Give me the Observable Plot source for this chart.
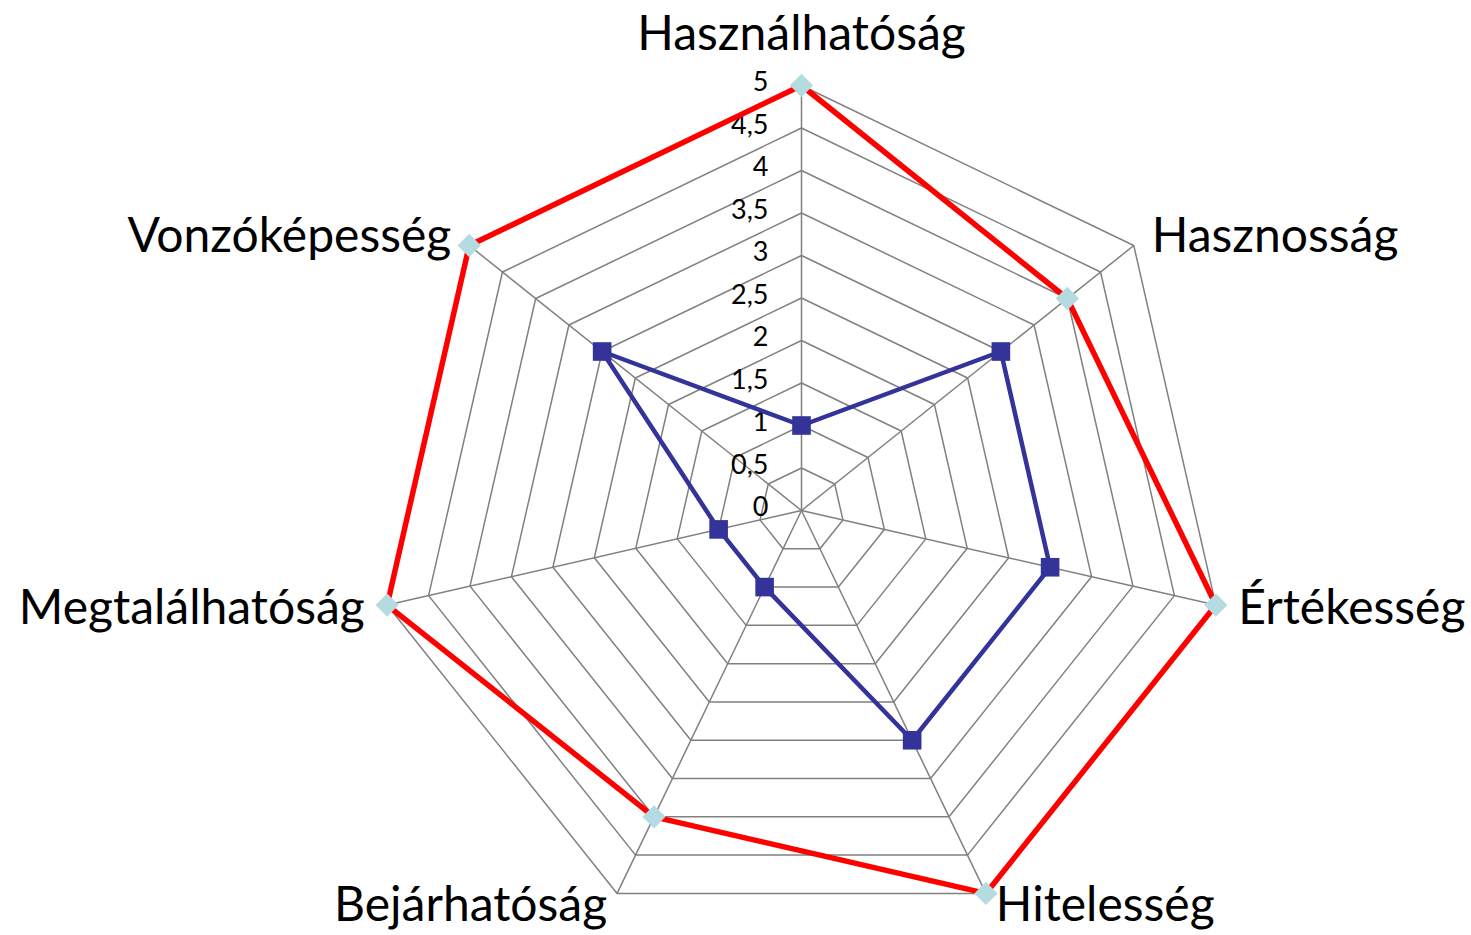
<!DOCTYPE html>
<html><head><meta charset="utf-8">
<script src="https://cdn.jsdelivr.net/npm/d3@7"></script>
<script src="https://cdn.jsdelivr.net/npm/@observablehq/plot@0.6"></script>
<style>body{margin:0;background:#fff;overflow:hidden}</style>
</head><body><div id="chart"></div>
<script>
const axes = ["Használhatóság","Hasznosság","Értékesség","Hitelesség","Bejárhatóság","Megtalálhatóság","Vonzóképesség"];
const seriesRed = [5,4,5,5,4,5,5];
const seriesBlue = [1,3,3,3,1,1,3];
const ticks = [0,0.5,1,1.5,2,2.5,3,3.5,4,4.5,5];
const tickLabels = ["0","0,5","1","1,5","2","2,5","3","3,5","4","4,5","5"];

const n = axes.length;
const ang = i => 2 * Math.PI * i / n;
const px = (i, v) => v * Math.sin(ang(i));
const py = (i, v) => v * Math.cos(ang(i));
const maxV = d3.max(ticks);

const rings = [];
ticks.filter(t => t > 0).forEach(t => {
  for (let i = 0; i <= n; i++) rings.push({ring: t, i: i % n, v: t});
});
const spokes = axes.map((a, i) => ({i}));
const closed = vals => d3.range(n + 1).map(k => ({i: k % n, v: vals[k % n]}));
const pts = vals => vals.map((v, i) => ({i, v}));
const labels = axes.map((name, i) => ({name, i}));
const side = d => Math.sin(ang(d.i));

const labelOpts = {
  x: d => d.i === 0 ? 0 : px(d.i, maxV + 0.27),
  y: d => d.i === 0 ? maxV + 0.6 : py(d.i, maxV) + 0.165 * Math.cos(ang(d.i)),
  text: "name", lineAnchor: "middle", fontSize: 48, fill: "black"
};

const chart = Plot.plot({
  width: 1471, height: 935, margin: 0,
  x: {domain: [-801/85, 670/85], axis: null},
  y: {domain: [-425/85, 510/85], axis: null},
  style: {fontFamily: "Lato, 'Open Sans', sans-serif", background: "white", color: "black"},
  marks: [
    Plot.line(rings, {x: d => px(d.i, d.v), y: d => py(d.i, d.v), z: "ring", stroke: "#808080", strokeWidth: 1.5}),
    Plot.link(spokes, {x1: 0, y1: 0, x2: d => px(d.i, maxV), y2: d => py(d.i, maxV), stroke: "#808080", strokeWidth: 1.5}),
    Plot.text(ticks, {x: 0, y: d => d, text: (d, k) => tickLabels[k], textAnchor: "end", dx: -33, dy: -3, fontSize: 27, fill: "black"}),
    Plot.line(closed(seriesRed), {x: d => px(d.i, d.v), y: d => py(d.i, d.v), stroke: "#FF0000", strokeWidth: 5.5, strokeLinejoin: "miter"}),
    Plot.line(closed(seriesBlue), {x: d => px(d.i, d.v), y: d => py(d.i, d.v), stroke: "#333399", strokeWidth: 4.5, strokeLinejoin: "miter"}),
    Plot.dot(pts(seriesRed), {x: d => px(d.i, d.v), y: d => py(d.i, d.v), symbol: "diamond2", r: 10.5, fill: "#B4DCE0", stroke: "none"}),
    Plot.dot(pts(seriesBlue), {x: d => px(d.i, d.v), y: d => py(d.i, d.v), symbol: "square", r: 10.5, fill: "#333399", stroke: "none"}),
    Plot.text(labels.filter(d => d.i === 0), {...labelOpts, textAnchor: "middle"}),
    Plot.text(labels.filter(d => d.i > 0 && side(d) > 0), {...labelOpts, textAnchor: "start"}),
    Plot.text(labels.filter(d => d.i > 0 && side(d) < 0), {...labelOpts, textAnchor: "end"})
  ]
});
document.getElementById("chart").appendChild(chart);
</script>
</body></html>
